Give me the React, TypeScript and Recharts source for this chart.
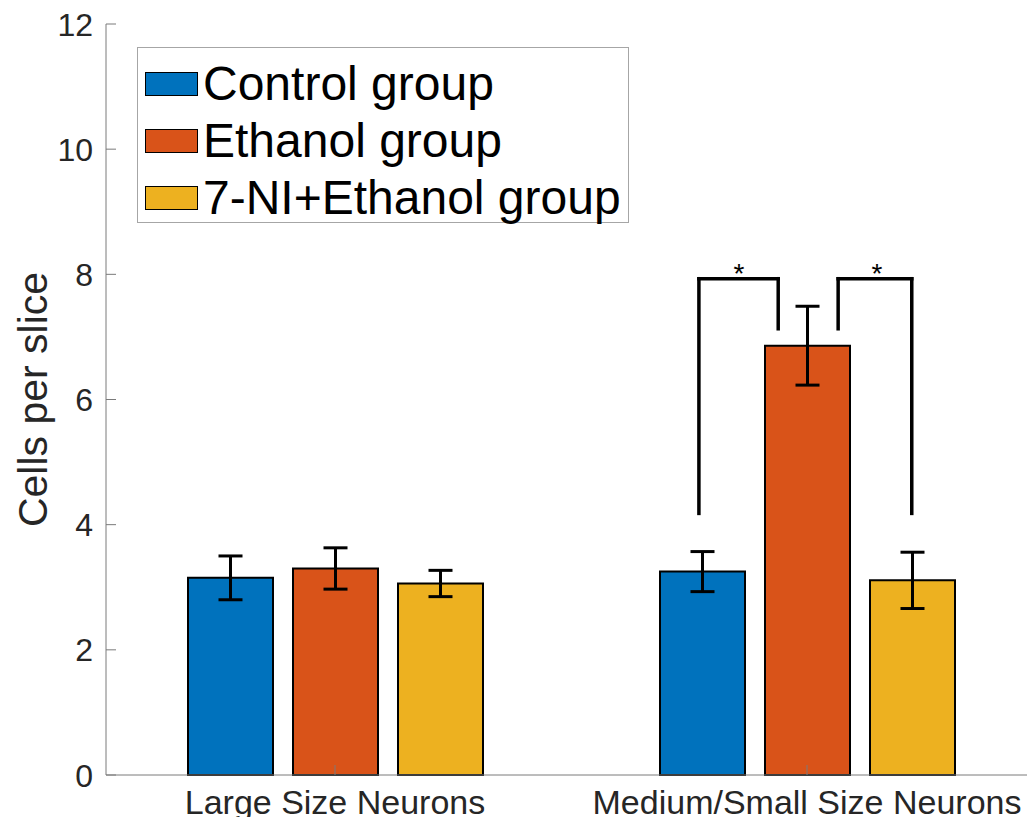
import React from "react";
import {
  BarChart,
  Bar,
  XAxis,
  YAxis,
  ErrorBar,
  Legend,
  ReferenceLine,
  ReferenceDot,
} from "recharts";

const groups = ["Large Size Neurons", "Medium/Small Size Neurons"];
const groupPos = [1, 2];
const controlMean = [3.15, 3.25];
const controlSem = [0.35, 0.32];
const ethanolMean = [3.3, 6.86];
const ethanolSem = [0.33, 0.63];
const niMean = [3.06, 3.11];
const niSem = [0.21, 0.45];
const yTicks = [0, 2, 4, 6, 8, 10, 12];

// significance brackets as [group position, cells per slice]
const bracketLeft = [
  [1.771, 4.18],
  [1.771, 7.93],
  [1.939, 7.93],
  [1.939, 7.13],
];
const bracketRight = [
  [2.066, 7.13],
  [2.066, 7.93],
  [2.222, 7.93],
  [2.222, 4.18],
];
const stars = [
  [1.856, 8.1],
  [2.148, 8.1],
];

const series = [
  { key: "control", err: "controlErr", name: "Control group", color: "#0072BD" },
  { key: "ethanol", err: "ethanolErr", name: "Ethanol group", color: "#D95319" },
  { key: "ni", err: "niErr", name: "7-NI+Ethanol group", color: "#EDB120" },
];

const data = groups.map((name, i) => ({
  name,
  pos: groupPos[i],
  control: controlMean[i],
  controlErr: controlSem[i],
  ethanol: ethanolMean[i],
  ethanolErr: ethanolSem[i],
  ni: niMean[i],
  niErr: niSem[i],
}));

const FONT = '"Liberation Sans", Arial, Helvetica, sans-serif';
const AXIS = "#7a7a7a";
const TEXT = "#262626";

function LeftTick({ x, y, payload }: any) {
  return (
    <g>
      <line x1={x} x2={x + 10} y1={y} y2={y} stroke={AXIS} />
      <text
        x={x - 13}
        y={y}
        dy="0.36em"
        textAnchor="end"
        fontSize={32}
        fill={TEXT}
        fontFamily={FONT}
      >
        {payload.value}
      </text>
    </g>
  );
}

function RightTick({ x, y }: any) {
  return <line x1={x} x2={x - 10} y1={y} y2={y} stroke={AXIS} />;
}

function BottomTick({ x, y, payload }: any) {
  return (
    <g>
      <line x1={x} x2={x} y1={y} y2={y - 10} stroke={AXIS} />
      <text
        x={x}
        y={y + 39}
        textAnchor="middle"
        fontSize={34}
        fill={TEXT}
        fontFamily={FONT}
      >
        {payload.value}
      </text>
    </g>
  );
}

function TopTick({ x, y }: any) {
  return <line x1={x} x2={x} y1={y} y2={y + 10} stroke={AXIS} />;
}

function YLabel({ viewBox }: any) {
  const cy = viewBox.y + viewBox.height / 2;
  return (
    <text
      transform={`translate(47,${cy}) rotate(-90)`}
      textAnchor="middle"
      fontSize={41}
      fill={TEXT}
      fontFamily={FONT}
    >
      Cells per slice
    </text>
  );
}

function LegendBox({ payload }: any) {
  const order = series.map((s) => s.name);
  const items = [...(payload || [])].sort(
    (a: any, b: any) => order.indexOf(a.value) - order.indexOf(b.value)
  );
  return (
    <div
      style={{
        boxSizing: "border-box",
        width: 492,
        height: 176,
        border: "1px solid #a6a6a6",
        background: "#fff",
        padding: "7px 0 0 7px",
        fontFamily: FONT,
      }}
    >
      {items.map((entry: any) => (
        <div
          key={entry.value}
          style={{ display: "flex", alignItems: "center", height: 57 }}
        >
          <span
            style={{
              boxSizing: "border-box",
              width: 53,
              height: 24,
              background: entry.color,
              border: "1.5px solid #000",
              marginRight: 5,
            }}
          />
          <span style={{ fontSize: 48, lineHeight: "57px", color: "#000" }}>
            {entry.value}
          </span>
        </div>
      ))}
    </div>
  );
}

function segments(points: number[][]) {
  return points.slice(1).map((p, i) => [points[i], p]);
}

export default function App() {
  const bracketSegs = [...segments(bracketLeft), ...segments(bracketRight)];
  return (
    <div
      style={{
        margin: -8,
        width: 1035,
        height: 825,
        overflow: "hidden",
        background: "#fff",
      }}
    >
      <BarChart
        width={1040}
        height={825}
        data={data}
        margin={{ top: 24, right: 0, bottom: 0, left: 0 }}
        barSize={85}
        barGap={20}
      >
        <XAxis
          dataKey="name"
          height={50}
          padding={{ left: -7, right: -7 }}
          axisLine={{ stroke: AXIS }}
          tickLine={false}
          tickSize={0}
          tickMargin={0}
          tick={<BottomTick />}
          interval={0}
        />
        <XAxis
          xAxisId="top"
          orientation="top"
          dataKey="name"
          height={0}
          padding={{ left: -7, right: -7 }}
          axisLine={{ stroke: AXIS }}
          tickLine={false}
          tickSize={0}
          tickMargin={0}
          tick={<TopTick />}
          interval={0}
        />
        <XAxis
          xAxisId="num"
          dataKey="pos"
          type="number"
          domain={[0.5148, 2.4852]}
          allowDataOverflow
          hide
        />
        <YAxis
          width={106}
          domain={[0, 12]}
          ticks={yTicks}
          interval={0}
          axisLine={{ stroke: AXIS }}
          tickLine={false}
          tickSize={0}
          tickMargin={0}
          tick={<LeftTick />}
          label={{ content: <YLabel /> }}
        />
        <YAxis
          yAxisId="right"
          orientation="right"
          width={4}
          domain={[0, 12]}
          ticks={yTicks}
          interval={0}
          axisLine={{ stroke: AXIS }}
          tickLine={false}
          tickSize={0}
          tickMargin={0}
          tick={<RightTick />}
        />
        <Legend
          layout="vertical"
          align="center"
          verticalAlign="middle"
          wrapperStyle={{ left: 137, top: 47, width: 492 }}
          content={<LegendBox />}
        />
        {series.map((s) => (
          <Bar
            key={s.key}
            dataKey={s.key}
            name={s.name}
            fill={s.color}
            stroke="#000"
            strokeWidth={2}
            isAnimationActive={false}
          >
            <ErrorBar
              dataKey={s.err}
              width={12}
              stroke="#000"
              strokeWidth={3}
              isAnimationActive={false}
            />
          </Bar>
        ))}
        {bracketSegs.map(([a, b], i) => (
          <ReferenceLine
            key={i}
            xAxisId="num"
            yAxisId={0}
            segment={[
              { x: a[0], y: a[1] },
              { x: b[0], y: b[1] },
            ]}
            stroke="#000"
            strokeWidth={3.5}
            strokeLinecap="square"
            ifOverflow="visible"
          />
        ))}
        {stars.map(([sx, sy], i) => (
          <ReferenceDot
            key={i}
            xAxisId="num"
            yAxisId={0}
            x={sx}
            y={sy}
            r={0}
            ifOverflow="visible"
            shape={(p: any) => (
              <text
                x={p.cx}
                y={p.cy + 15}
                textAnchor="middle"
                fontSize={28}
                fill="#000"
                fontFamily={FONT}
              >
                *
              </text>
            )}
          />
        ))}
      </BarChart>
    </div>
  );
}
